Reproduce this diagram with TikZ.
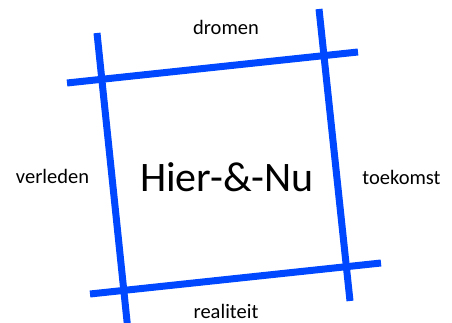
\documentclass[tikz,border=0pt]{standalone}
\usepackage{fontspec}
\setmainfont{Carlito}
\definecolor{barblue}{RGB}{0,72,255}
\begin{document}
\begin{tikzpicture}[x=1pt,y=-1pt,
  bar/.style={draw=barblue,line width=7pt,line cap=butt},
  lbl/.style={anchor=base,inner sep=0pt,font=\fontsize{20.5}{24}\selectfont},
  big/.style={anchor=base,inner sep=0pt,font=\fontsize{42}{48}\selectfont}]
\useasboundingbox (0,0) rectangle (452,323);
% bar end points
\coordinate (lt) at (97,33);   \coordinate (lb) at (127.5,326);
\coordinate (rt) at (319,9);   \coordinate (rb) at (350,301);
\coordinate (tl) at (67,83);   \coordinate (tr) at (358,52);
\coordinate (bl) at (90,294);  \coordinate (br) at (381,263);
\draw[bar] (lt) -- (lb);
\draw[bar] (rt) -- (rb);
\draw[bar] (tl) -- (tr);
\draw[bar] (bl) -- (br);
% labels
\node[lbl] (dromen) at (226,35) {dromen};
\node[lbl] (verleden) at (52.5,184) {verleden};
\node[lbl] (toekomst) at (401.5,185) {toekomst};
\node[lbl] (realiteit) at (226,318) {realiteit};
\node[big] (hier) at (227,192) {Hier-\&-Nu};
\end{tikzpicture}
\end{document}
